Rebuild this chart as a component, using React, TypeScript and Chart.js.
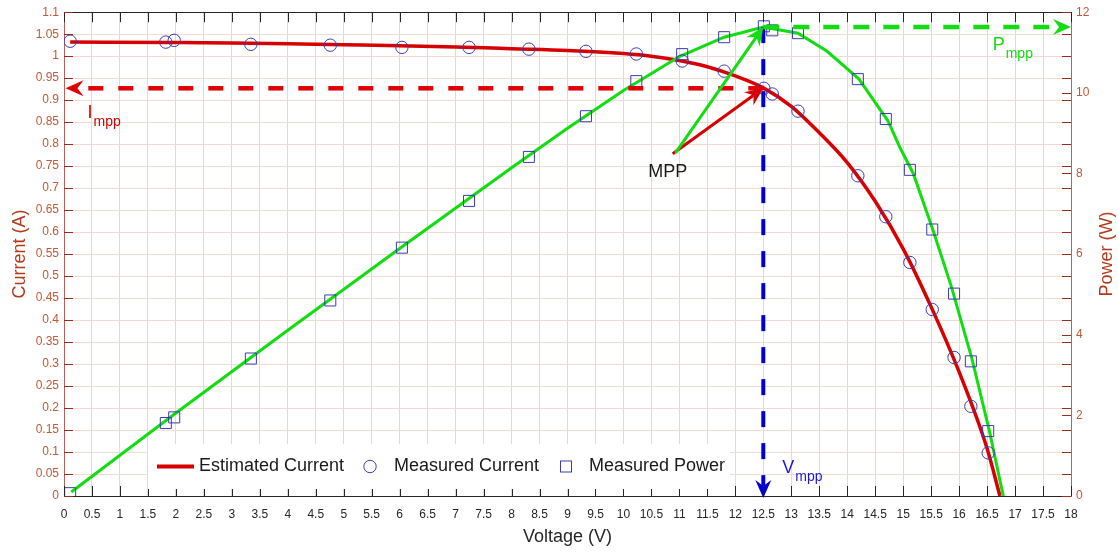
import React, { useEffect, useRef } from 'react';
import { Chart, registerables } from 'chart.js';

Chart.register(...registerables);

const FONT = '"Liberation Sans", Arial, Helvetica, sans-serif';

// ---- data ----
const measuredVoltage = [0.11, 1.82, 1.97, 3.34, 4.76, 6.04, 7.24, 8.31, 9.33, 10.23, 11.05, 11.8, 12.51, 12.66, 13.12, 14.19, 14.69, 15.12, 15.52, 15.91, 16.21, 16.52];
const measuredCurrent = [1.034, 1.032, 1.036, 1.027, 1.025, 1.02, 1.02, 1.016, 1.011, 1.005, 0.989, 0.966, 0.927, 0.914, 0.875, 0.728, 0.635, 0.531, 0.424, 0.315, 0.204, 0.098];
const measuredPower = [0.07, 1.81, 1.95, 3.41, 4.85, 6.16, 7.32, 8.41, 9.42, 10.29, 10.96, 11.38, 11.65, 11.55, 11.48, 10.34, 9.35, 8.09, 6.61, 5.02, 3.34, 1.61];

const estCurrentVoltage = [0.11, 2, 3, 4, 5, 6, 7, 8, 9, 10, 10.5, 11, 11.5, 12, 12.5, 13, 13.5, 14, 14.5, 15, 15.5, 16, 16.5, 16.73];
const estCurrent = [1.032, 1.031, 1.03, 1.028, 1.026, 1.024, 1.021, 1.017, 1.013, 1.006, 1.0, 0.99, 0.976, 0.955, 0.928, 0.886, 0.826, 0.758, 0.67, 0.562, 0.43, 0.282, 0.108, 0];

const estPowerVoltage = [0.13, 2, 4, 6, 8, 9, 10, 11, 11.8, 12.5, 13.12, 13.64, 14.21, 14.73, 14.94, 15.18, 15.52, 15.86, 16.23, 16.54, 16.79];
const estPower = [0.1, 2.06, 4.11, 6.14, 8.14, 9.12, 10.06, 10.9, 11.38, 11.63, 11.48, 11.03, 10.34, 9.3, 8.65, 8.0, 6.65, 5.2, 3.4, 1.62, 0];

const voltageTicks = [0, 0.5, 1, 1.5, 2, 2.5, 3, 3.5, 4, 4.5, 5, 5.5, 6, 6.5, 7, 7.5, 8, 8.5, 9, 9.5, 10, 10.5, 11, 11.5, 12, 12.5, 13, 13.5, 14, 14.5, 15, 15.5, 16, 16.5, 17, 17.5, 18];
const currentTicks = [0, 0.05, 0.1, 0.15, 0.2, 0.25, 0.3, 0.35, 0.4, 0.45, 0.5, 0.55, 0.6, 0.65, 0.7, 0.75, 0.8, 0.85, 0.9, 0.95, 1, 1.05, 1.1];
const powerTicks = [0, 2, 4, 6, 8, 10, 12];

const legendLabels = ['Estimated Current', 'Measured Current', 'Measured Power'];
const axisTitles = { x: 'Voltage (V)', left: 'Current (A)', right: 'Power (W)' };

// maximum power point annotation values
const Vmpp = 12.5;
const Impp = 0.927;
const Pmpp = 11.63;
const mppText = 'MPP';
const mppTextAt = { v: 10.79, i: 0.726 };
const mppRedStart = { v: 10.88, i: 0.778 };
const mppGreenStart = { v: 10.93, i: 0.78 };
const imppLabelAt = { v: 0.42, i: 0.86 };
const vmppLabelAt = { v: 12.84, i: 0.052 };
const pmppLabelAt = { v: 16.6, p: 11.06 };

// ---- styles ----
const RED = '#d60000';
const RED_DASH = '#e00000';
const GREEN = '#11dd11';
const BLUE = '#0000cd';
const MARKER = '#3b3bb5';
const TICK_LABEL = '#c05a35';
const TITLE_RED = '#b33a1a';
const AXIS_RED = '#b8625a';
const TICK_RED = '#962d1e';
const DARK = '#262626';

function drawArrow(ctx: CanvasRenderingContext2D, x1: number, y1: number, x2: number, y2: number, color: string, width: number, dash: number[]) {
  const ang = Math.atan2(y2 - y1, x2 - x1);
  const L = 18, W = 8, N = 6;
  const ex = x2 - Math.cos(ang) * (L - N);
  const ey = y2 - Math.sin(ang) * (L - N);
  ctx.save();
  ctx.strokeStyle = color;
  ctx.lineWidth = width;
  ctx.lineCap = 'butt';
  ctx.setLineDash(dash);
  ctx.beginPath();
  ctx.moveTo(x1, y1);
  ctx.lineTo(ex, ey);
  ctx.stroke();
  ctx.setLineDash([]);
  ctx.translate(x2, y2);
  ctx.rotate(ang);
  ctx.beginPath();
  ctx.moveTo(0, 0);
  ctx.lineTo(-L, -W);
  ctx.lineTo(-(L - N), 0);
  ctx.lineTo(-L, W);
  ctx.closePath();
  ctx.fillStyle = color;
  ctx.fill();
  ctx.restore();
}

function subLabel(ctx: CanvasRenderingContext2D, x: number, y: number, main: string, sub: string, color: string) {
  ctx.save();
  ctx.fillStyle = color;
  ctx.textAlign = 'left';
  ctx.textBaseline = 'alphabetic';
  ctx.font = `18px ${FONT}`;
  ctx.fillText(main, x, y);
  const w = ctx.measureText(main).width;
  ctx.font = `14px ${FONT}`;
  ctx.fillText(sub, x + w + 1, y + 8);
  ctx.restore();
}

const decorPlugin = {
  id: 'decor',
  afterDatasetsDraw(chart: any) {
    const ctx: CanvasRenderingContext2D = chart.ctx;
    const a = chart.chartArea;
    const xs = chart.scales.x;
    const ys = chart.scales.y;
    const ps = chart.scales.y1;
    const seg = (x1: number, y1: number, x2: number, y2: number) => {
      ctx.beginPath();
      ctx.moveTo(x1, y1);
      ctx.lineTo(x2, y2);
      ctx.stroke();
    };
    ctx.save();
    ctx.lineWidth = 1;
    ctx.setLineDash([]);
    // inward tick marks
    ctx.strokeStyle = DARK;
    voltageTicks.forEach((v) => {
      const px = Math.round(xs.getPixelForValue(v)) + 0.5;
      seg(px, a.bottom, px, a.bottom - 10);
      seg(px, a.top, px, a.top + 10);
    });
    ctx.strokeStyle = TICK_RED;
    currentTicks.forEach((v) => {
      const py = Math.round(ys.getPixelForValue(v)) + 0.5;
      seg(a.left, py, a.left + 9, py);
      seg(a.right, py, a.right - 9, py);
    });
    powerTicks.forEach((v) => {
      const py = Math.round(ps.getPixelForValue(v)) + 0.5;
      seg(a.right, py, a.right - 9, py);
    });

    // legend box
    const lx = a.left + 84;
    const ly = a.bottom - 52;
    ctx.fillStyle = '#ffffff';
    ctx.fillRect(lx, ly, 582, 45);
    const cy = ly + 22.5;
    ctx.strokeStyle = RED;
    ctx.lineWidth = 4;
    seg(lx + 9, cy, lx + 46, cy);
    ctx.lineWidth = 1;
    ctx.strokeStyle = MARKER;
    ctx.beginPath();
    ctx.arc(lx + 222, cy, 6.2, 0, Math.PI * 2);
    ctx.stroke();
    ctx.strokeRect(lx + 418 - 5.5, cy - 5.5, 11, 11);
    ctx.font = `18px ${FONT}`;
    ctx.fillStyle = '#1a1a1a';
    ctx.textAlign = 'left';
    ctx.textBaseline = 'middle';
    ctx.fillText(legendLabels[0], lx + 51, cy);
    ctx.fillText(legendLabels[1], lx + 246, cy);
    ctx.fillText(legendLabels[2], lx + 441, cy);

    // MPP annotations
    const xm = xs.getPixelForValue(Vmpp);
    const yi = ys.getPixelForValue(Impp);
    const yp = ps.getPixelForValue(Pmpp);
    drawArrow(ctx, xm, yi, a.left + 1.5, yi, RED_DASH, 4.5, [15, 15]);
    drawArrow(ctx, xm, yp, xm, a.bottom + 2, BLUE, 4, [16, 16]);
    drawArrow(ctx, xm, yp, a.right, yp, GREEN, 4.5, [16, 14]);
    drawArrow(ctx, xs.getPixelForValue(mppRedStart.v), ys.getPixelForValue(mppRedStart.i), xm, yi, RED, 3, []);
    drawArrow(ctx, xs.getPixelForValue(mppGreenStart.v), ys.getPixelForValue(mppGreenStart.i), xm, yp, GREEN, 3, []);

    ctx.font = `18px ${FONT}`;
    ctx.fillStyle = '#1a1a1a';
    ctx.textAlign = 'center';
    ctx.textBaseline = 'alphabetic';
    ctx.fillText(mppText, xs.getPixelForValue(mppTextAt.v), ys.getPixelForValue(mppTextAt.i));

    subLabel(ctx, xs.getPixelForValue(imppLabelAt.v), ys.getPixelForValue(imppLabelAt.i), 'I', 'mpp', RED);
    subLabel(ctx, xs.getPixelForValue(vmppLabelAt.v), ys.getPixelForValue(vmppLabelAt.i), 'V', 'mpp', '#1a1acc');
    subLabel(ctx, xs.getPixelForValue(pmppLabelAt.v), ps.getPixelForValue(pmppLabelAt.p), 'P', 'mpp', GREEN);

    // right axis title (reads bottom to top)
    ctx.save();
    ctx.translate(1107, (a.top + a.bottom) / 2);
    ctx.rotate(-Math.PI / 2);
    ctx.font = `18px ${FONT}`;
    ctx.fillStyle = TITLE_RED;
    ctx.textAlign = 'center';
    ctx.textBaseline = 'middle';
    ctx.fillText(axisTitles.right, 0, 0);
    ctx.restore();

    ctx.restore();
  },
};

export default function App() {
  const canvasRef = useRef<HTMLCanvasElement | null>(null);

  useEffect(() => {
    if (!canvasRef.current) return;
    const toXY = (xs: number[], ys: number[]) => xs.map((x, i) => ({ x, y: ys[i] }));
    const chart = new Chart(canvasRef.current, {
      type: 'line',
      data: {
        datasets: [
          {
            label: legendLabels[1],
            data: toXY(measuredVoltage, measuredCurrent),
            yAxisID: 'y',
            showLine: false,
            pointStyle: 'circle',
            pointRadius: 6.2,
            pointBorderWidth: 1,
            pointBorderColor: MARKER,
            pointBackgroundColor: 'rgba(0,0,0,0)',
            borderColor: MARKER,
          },
          {
            label: legendLabels[2],
            data: toXY(measuredVoltage, measuredPower),
            yAxisID: 'y1',
            showLine: false,
            pointStyle: 'rect',
            pointRadius: 7.8,
            pointBorderWidth: 1,
            pointBorderColor: MARKER,
            pointBackgroundColor: 'rgba(0,0,0,0)',
            borderColor: MARKER,
          },
          {
            label: 'Estimated Power',
            data: toXY(estPowerVoltage, estPower),
            yAxisID: 'y1',
            borderColor: GREEN,
            borderWidth: 3,
            pointRadius: 0,
            tension: 0,
          },
          {
            label: legendLabels[0],
            data: toXY(estCurrentVoltage, estCurrent),
            yAxisID: 'y',
            borderColor: RED,
            borderWidth: 3.5,
            pointRadius: 0,
            cubicInterpolationMode: 'monotone',
          },
        ] as any,
      },
      options: {
        responsive: false,
        animation: false,
        events: [],
        layout: { padding: 0 },
        plugins: { legend: { display: false }, tooltip: { enabled: false } },
        scales: {
          x: {
            type: 'linear',
            position: 'bottom',
            min: 0,
            max: 18,
            afterBuildTicks: (s: any) => {
              s.ticks = voltageTicks.map((v) => ({ value: v }));
            },
            afterFit: (s: any) => {
              s.height = 56;
            },
            ticks: {
              callback: (v: any) => String(v),
              color: DARK,
              font: { family: FONT, size: 12 },
              padding: 11,
              maxRotation: 0,
              autoSkip: false,
            },
            grid: { color: '#dcdcdc', lineWidth: 1, drawTicks: false },
            border: { color: DARK, width: 1 },
            title: {
              display: true,
              text: axisTitles.x,
              color: DARK,
              font: { family: FONT, size: 18 },
              padding: { top: 0, bottom: 4 },
            },
          },
          x2: {
            type: 'linear',
            position: 'top',
            min: 0,
            max: 18,
            afterFit: (s: any) => {
              s.height = 11;
            },
            ticks: { display: false },
            grid: { drawOnChartArea: false, drawTicks: false },
            border: { color: DARK, width: 1 },
          },
          y: {
            type: 'linear',
            position: 'left',
            min: 0,
            max: 1.1,
            afterBuildTicks: (s: any) => {
              s.ticks = currentTicks.map((v) => ({ value: v }));
            },
            afterFit: (s: any) => {
              s.width = 64;
            },
            ticks: {
              callback: (v: any) => String(v),
              color: TICK_LABEL,
              font: { family: FONT, size: 12 },
              padding: 5,
              autoSkip: false,
            },
            grid: { color: '#f2dbd3', lineWidth: 1, drawTicks: false },
            border: { color: AXIS_RED, width: 1 },
            title: {
              display: true,
              text: axisTitles.left,
              color: TITLE_RED,
              font: { family: FONT, size: 18 },
              padding: { top: 9, bottom: 0 },
            },
          },
          y1: {
            type: 'linear',
            position: 'right',
            min: 0,
            max: 12,
            afterBuildTicks: (s: any) => {
              s.ticks = powerTicks.map((v) => ({ value: v }));
            },
            afterFit: (s: any) => {
              s.width = 47;
            },
            ticks: {
              callback: (v: any) => String(v),
              color: TICK_LABEL,
              font: { family: FONT, size: 12 },
              padding: 5,
              autoSkip: false,
            },
            grid: { drawOnChartArea: false, drawTicks: false },
            border: { color: AXIS_RED, width: 1 },
          },
        },
      } as any,
      plugins: [decorPlugin],
    });
    return () => chart.destroy();
  }, []);

  return (
    <div style={{ position: 'absolute', left: 0, top: 0, width: 1118, height: 552, background: '#ffffff' }}>
      <canvas ref={canvasRef} width={1118} height={552} style={{ display: 'block' }} />
    </div>
  );
}
